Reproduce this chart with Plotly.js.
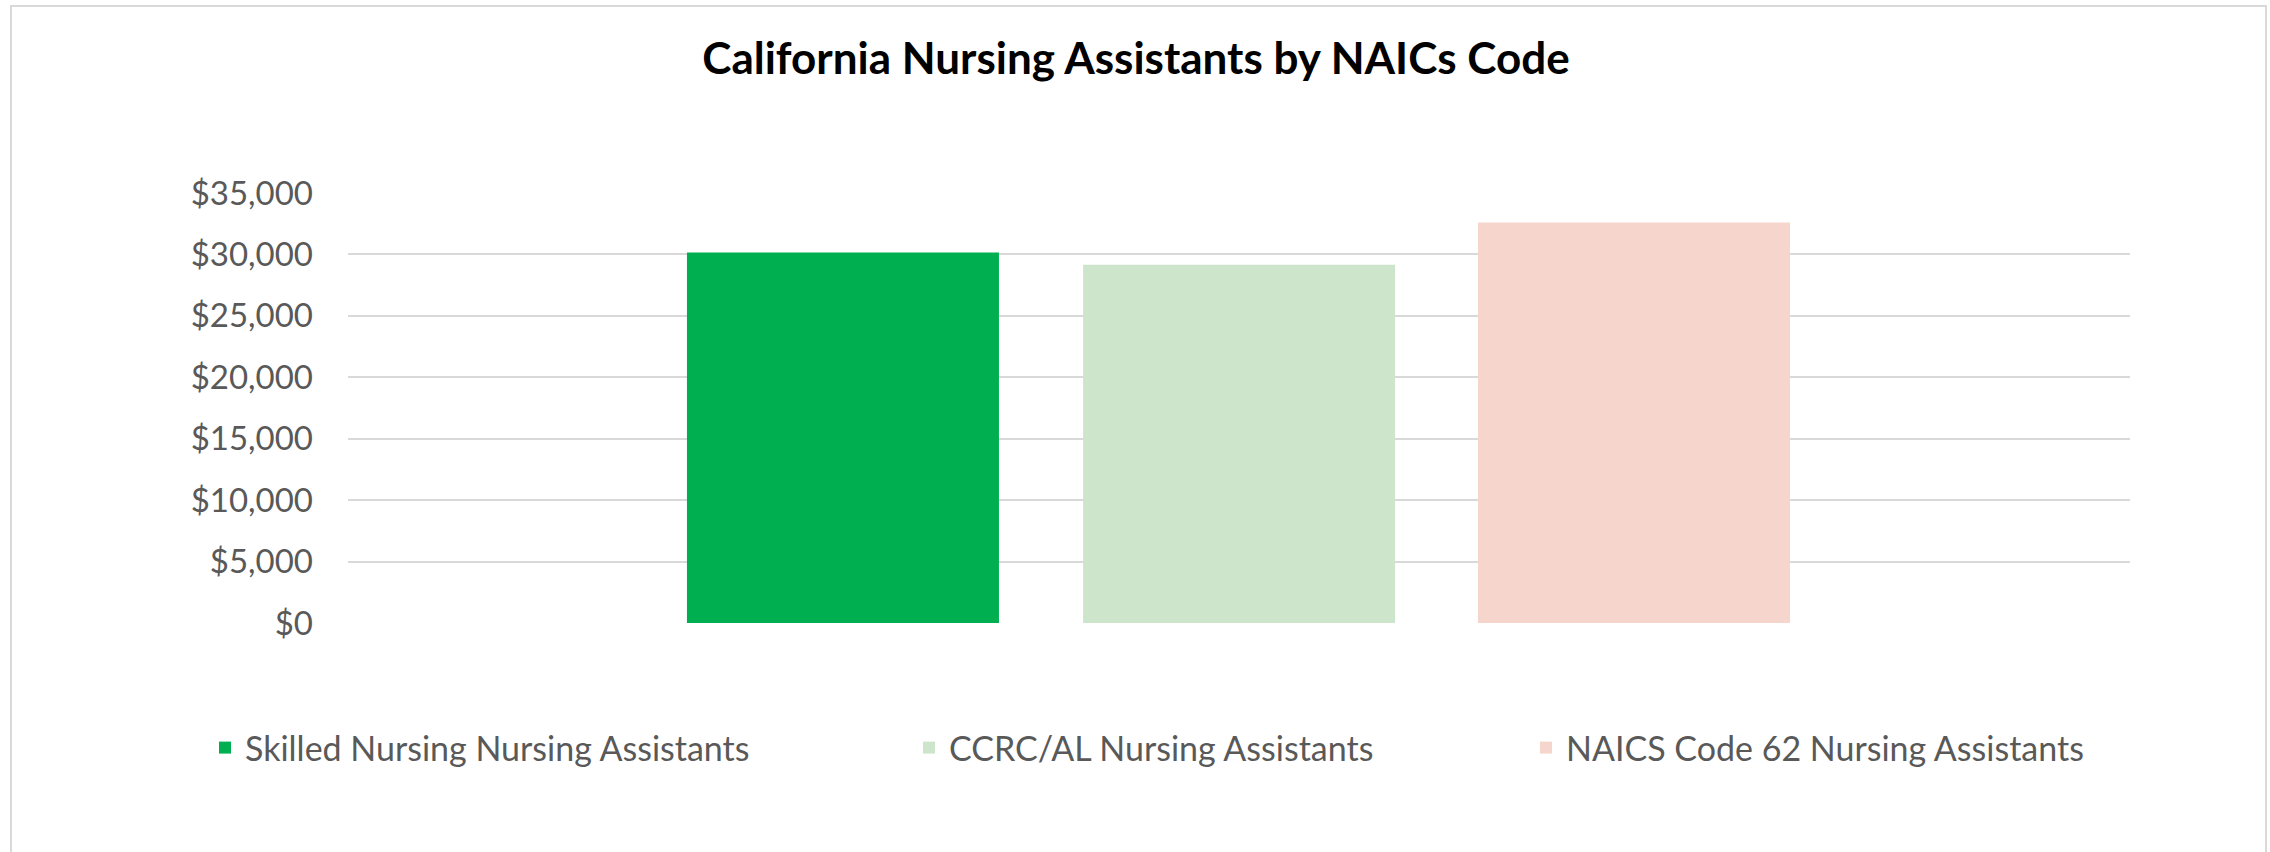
<!DOCTYPE html>
<html>
<head>
<meta charset="utf-8">
<script src="https://cdn.plot.ly/plotly-3.0.1.min.js"></script>
<style>
  html, body { margin: 0; padding: 0; background: #ffffff; }
  #frame { position: absolute; left: 10px; top: 5px; width: 2257px; height: 900px; border: 2px solid #d9d9d9; box-sizing: border-box; }
  #chart { position: absolute; left: 0; top: 0; width: 2270px; height: 852px; }
</style>
</head>
<body>
<div id="frame"></div>
<div id="chart"></div>
<script>
// ---- data ----
const categories = ["California"];
const seriesNames = [
  "Skilled Nursing Nursing Assistants",
  "CCRC/AL Nursing Assistants",
  "NAICS Code 62 Nursing Assistants"
];
const skilledNursing = [30150];
const ccrcAL = [29170];
const naics62 = [32590];
const yTickValues = [0, 5000, 10000, 15000, 20000, 25000, 30000, 35000];
const yTickLabels = ["$0", "$5,000", "$10,000", "$15,000", "$20,000", "$25,000", "$30,000", "$35,000"];

// ---- styles ----
const colors = ["#00b050", "#cde6cb", "#f6d5cc"];
const barWidth = 0.1751;
const barOffsets = [-0.3098, -0.0875, 0.1341];
const legendNames = ["legend", "legend2", "legend3"];
const legendX = [205, 909, 1526];
const W = 2270, H = 852;

const values = [skilledNursing, ccrcAL, naics62];
const traces = values.map((v, i) => ({
  type: "bar",
  x: categories,
  y: v,
  name: seriesNames[i],
  marker: { color: colors[i], line: { width: 0 } },
  width: barWidth,
  offset: barOffsets[i],
  legend: legendNames[i],
  hoverinfo: "skip"
}));

const legendFont = { family: "Lato, 'Open Sans', sans-serif", size: 34, color: "#595959" };
function mkLegend(i) {
  return {
    orientation: "h",
    xref: "container", yref: "container",
    x: legendX[i] / W, xanchor: "left",
    y: 1 - 748 / H, yanchor: "middle",
    font: legendFont,
    bgcolor: "rgba(0,0,0,0)",
    borderwidth: 0
  };
}

const layout = {
  width: W, height: H,
  paper_bgcolor: "rgba(0,0,0,0)",
  plot_bgcolor: "rgba(0,0,0,0)",
  margin: { l: 348, r: 140, t: 193, b: 229, pad: 0 },
  barmode: "overlay",
  showlegend: true,
  title: {
    text: "<b>California Nursing Assistants by NAICs Code</b>",
    font: { family: "Lato, 'Open Sans', sans-serif", size: 44, color: "#000000" },
    x: 1136 / W, xanchor: "center", xref: "container",
    y: 1 - 59 / H, yanchor: "middle", yref: "container"
  },
  xaxis: {
    type: "category",
    range: [-0.5, 0.5],
    showticklabels: false,
    showgrid: false, zeroline: false, showline: false, ticks: ""
  },
  yaxis: {
    range: [0, 35000],
    tickvals: yTickValues,
    ticktext: yTickLabels,
    tickfont: { family: "Lato, 'Open Sans', sans-serif", size: 33, color: "#595959" },
    showgrid: true, gridcolor: "#d9d9d9", gridwidth: 2,
    zeroline: false, showline: false, ticks: "",
    ticklabelstandoff: 34
  },
  legend: mkLegend(0),
  legend2: mkLegend(1),
  legend3: mkLegend(2)
};

Plotly.newPlot("chart", traces, layout, { displayModeBar: false, staticPlot: true });
</script>
</body>
</html>
